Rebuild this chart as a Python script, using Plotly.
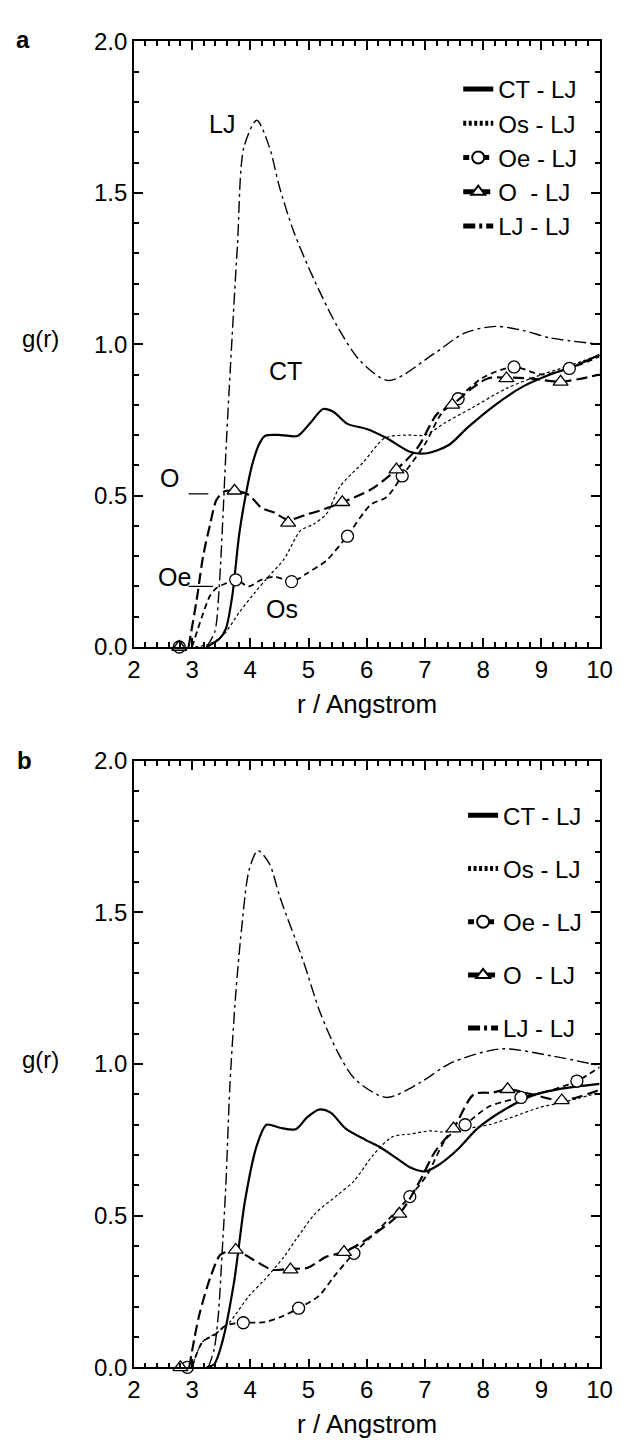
import plotly.graph_objects as go

# ---------------- Panel a data ----------------
a_ct_r = [3.25, 3.47, 3.58, 3.69, 3.81, 3.92, 4.03, 4.14, 4.25, 4.53, 4.81, 5.03, 5.25, 5.42, 5.67, 6.0, 6.34, 6.74, 7.04, 7.41, 7.74, 8.21, 8.68, 9.15, 9.6, 10.0]
a_ct_g = [0.0, 0.027, 0.06, 0.168, 0.373, 0.50, 0.60, 0.665, 0.697, 0.70, 0.697, 0.74, 0.786, 0.778, 0.737, 0.72, 0.69, 0.645, 0.64, 0.667, 0.726, 0.80, 0.86, 0.90, 0.93, 0.965]

a_os_r = [3.05, 3.3, 3.53, 3.81, 4.08, 4.31, 4.58, 4.86, 5.08, 5.31, 5.54, 5.94, 6.31, 6.68, 7.0, 7.34, 7.81, 8.41, 9.01, 9.5, 10.0]
a_os_g = [0.0, 0.01, 0.038, 0.114, 0.18, 0.232, 0.29, 0.384, 0.405, 0.44, 0.53, 0.61, 0.69, 0.70, 0.70, 0.74, 0.79, 0.855, 0.90, 0.93, 0.965]

a_oe_r = [3.0, 3.17, 3.31, 3.42, 3.58, 3.76, 3.97, 4.19, 4.42, 4.72, 4.97, 5.31, 5.66, 6.07, 6.34, 6.61, 7.0, 7.28, 7.56, 8.0, 8.53, 9.0, 9.48, 10.0]
a_oe_g = [0.0, 0.10, 0.17, 0.195, 0.21, 0.222, 0.20, 0.222, 0.232, 0.216, 0.243, 0.286, 0.366, 0.47, 0.495, 0.565, 0.67, 0.77, 0.82, 0.89, 0.925, 0.90, 0.92, 0.96]
a_oe_mr = [2.78, 3.75, 4.71, 5.67, 6.61, 7.57, 8.53, 9.48]
a_oe_mg = [0.0, 0.222, 0.216, 0.366, 0.565, 0.82, 0.925, 0.92]

a_o_r = [2.94, 3.08, 3.19, 3.31, 3.42, 3.56, 3.73, 3.97, 4.19, 4.42, 4.65, 4.97, 5.19, 5.58, 6.07, 6.51, 6.88, 7.21, 7.47, 7.81, 8.08, 8.4, 8.81, 9.33, 10.0]
a_o_g = [0.0, 0.157, 0.30, 0.405, 0.486, 0.514, 0.516, 0.503, 0.46, 0.443, 0.42, 0.438, 0.45, 0.478, 0.52, 0.586, 0.66, 0.77, 0.80, 0.855, 0.887, 0.89, 0.887, 0.876, 0.90]
a_o_mr = [2.78, 3.73, 4.65, 5.58, 6.51, 7.47, 8.4, 9.33]
a_o_mg = [0.0, 0.516, 0.41, 0.478, 0.586, 0.80, 0.887, 0.876]

a_lj_r = [3.25, 3.39, 3.47, 3.53, 3.58, 3.64, 3.78, 3.89, 4.11, 4.33, 4.5, 4.75, 5.08, 5.48, 5.88, 6.38, 7.15, 7.68, 8.21, 8.7, 9.15, 10.0]
a_lj_g = [0.0, 0.05, 0.21, 0.43, 0.64, 0.86, 1.33, 1.65, 1.74, 1.65, 1.52, 1.37, 1.22, 1.064, 0.947, 0.88, 0.968, 1.037, 1.059, 1.045, 1.021, 1.0]

# ---------------- Panel b data ----------------
b_ct_r = [3.25, 3.38, 3.52, 3.72, 3.91, 4.11, 4.28, 4.51, 4.78, 4.98, 5.18, 5.38, 5.64, 5.98, 6.21, 6.51, 6.77, 7.0, 7.24, 7.57, 7.9, 8.37, 8.9, 9.37, 10.0]
b_ct_g = [0.0, 0.01, 0.084, 0.28, 0.55, 0.73, 0.80, 0.79, 0.785, 0.825, 0.85, 0.84, 0.787, 0.75, 0.728, 0.69, 0.657, 0.646, 0.668, 0.72, 0.787, 0.85, 0.90, 0.92, 0.935]

b_os_r = [3.0, 3.18, 3.45, 3.65, 3.98, 4.25, 4.58, 4.78, 5.11, 5.51, 5.78, 6.11, 6.44, 6.77, 7.11, 7.31, 7.70, 8.1, 8.5, 8.97, 9.37, 10.0]
b_os_g = [0.0, 0.084, 0.117, 0.15, 0.236, 0.29, 0.365, 0.42, 0.506, 0.57, 0.614, 0.70, 0.76, 0.77, 0.78, 0.776, 0.787, 0.80, 0.825, 0.857, 0.874, 0.906]

b_oe_r = [3.0, 3.18, 3.38, 3.58, 3.88, 4.25, 4.51, 4.83, 5.18, 5.44, 5.78, 6.18, 6.74, 7.04, 7.37, 7.69, 8.1, 8.65, 9.03, 9.61, 10.0]
b_oe_g = [0.0, 0.084, 0.106, 0.138, 0.147, 0.149, 0.165, 0.195, 0.236, 0.30, 0.376, 0.45, 0.563, 0.636, 0.755, 0.80, 0.86, 0.89, 0.906, 0.944, 0.99]
b_oe_mr = [2.92, 3.88, 4.83, 5.78, 6.74, 7.69, 8.65, 9.61]
b_oe_mg = [0.0, 0.147, 0.195, 0.376, 0.563, 0.80, 0.89, 0.944]

b_o_r = [2.95, 3.12, 3.32, 3.48, 3.58, 3.75, 4.05, 4.38, 4.69, 4.98, 5.31, 5.61, 5.98, 6.56, 6.91, 7.17, 7.49, 7.84, 8.17, 8.42, 8.84, 9.35, 10.0]
b_o_g = [0.0, 0.17, 0.30, 0.37, 0.38, 0.387, 0.355, 0.322, 0.325, 0.328, 0.365, 0.38, 0.42, 0.506, 0.614, 0.71, 0.787, 0.90, 0.906, 0.917, 0.90, 0.88, 0.915]
b_o_mr = [2.8, 3.75, 4.69, 5.61, 6.56, 7.49, 8.42, 9.35]
b_o_mg = [0.0, 0.387, 0.322, 0.38, 0.506, 0.787, 0.917, 0.88]

b_lj_r = [3.28, 3.38, 3.45, 3.52, 3.58, 3.65, 3.75, 3.85, 3.98, 4.13, 4.33, 4.51, 4.91, 5.2, 5.5, 5.8, 6.34, 6.91, 7.44, 8.3, 9.17, 10.0]
b_lj_g = [0.0, 0.06, 0.17, 0.39, 0.60, 0.93, 1.23, 1.445, 1.64, 1.704, 1.66, 1.55, 1.34, 1.17, 1.04, 0.95, 0.89, 0.938, 1.003, 1.05, 1.027, 0.995]

series_names = ["CT", "Os", "Oe", "O", "LJ"]
legend_labels = ["CT - LJ", "Os - LJ", "Oe - LJ", "O\u00a0\u00a0- LJ", "LJ - LJ"]
x_range = [2, 10]
y_range = [0, 2]

FONT = "Liberation Sans, Arial, Helvetica, sans-serif"
W, H = 631, 1450
PL, PR = 131, 612
A_TOP, A_BOT = 28, 645
B_TOP, B_BOT = 761, 1379

styles = {
    "CT": dict(dash="solid", width=2.2),
    "Os": dict(dash="3px,2.5px", width=1.2),
    "Oe": dict(dash="6px,4px", width=1.8),
    "O": dict(dash="11px,5px", width=2.2),
    "LJ": dict(dash="12px,4px,3px,4px", width=1.4),
}
symbols = {"Oe": "circle", "O": "triangle-up"}

fig = go.Figure()


def gapped(vals):
    out = []
    for v in vals:
        out += [v, None]
    return out


def add_panel(xa, ya, leg, curves, markers):
    for rank, (name, label) in enumerate(zip(series_names, legend_labels)):
        r, g = curves[name]
        has_m = name in markers
        fig.add_trace(go.Scatter(
            x=r, y=g, mode="lines", xaxis=xa, yaxis=ya,
            line=dict(color="black", shape="spline", smoothing=0.8, **styles[name]),
            name=label, legend=leg, legendgroup=leg + name, legendrank=rank + 1,
            showlegend=not has_m, hoverinfo="skip"))
        if has_m:
            mr, mg = markers[name]
            fig.add_trace(go.Scatter(
                x=gapped(mr), y=gapped(mg), mode="lines+markers", connectgaps=False,
                xaxis=xa, yaxis=ya, cliponaxis=False,
                line=dict(color="black", **styles[name]),
                marker=dict(symbol=symbols[name], size=12 if name == "Oe" else 13,
                            color="white", line=dict(color="black", width=1.3)),
                name=label, legend=leg, legendgroup=leg + name, legendrank=rank + 1,
                showlegend=True, hoverinfo="skip"))


add_panel("x", "y", "legend",
          {"CT": (a_ct_r, a_ct_g), "Os": (a_os_r, a_os_g), "Oe": (a_oe_r, a_oe_g),
           "O": (a_o_r, a_o_g), "LJ": (a_lj_r, a_lj_g)},
          {"Oe": (a_oe_mr, a_oe_mg), "O": (a_o_mr, a_o_mg)})
add_panel("x2", "y2", "legend2",
          {"CT": (b_ct_r, b_ct_g), "Os": (b_os_r, b_os_g), "Oe": (b_oe_r, b_oe_g),
           "O": (b_o_r, b_o_g), "LJ": (b_lj_r, b_lj_g)},
          {"Oe": (b_oe_mr, b_oe_mg), "O": (b_o_mr, b_o_mg)})

tickfont = dict(family=FONT, size=24, color="black")


def xaxis(anchor):
    return dict(domain=[PL / W, PR / W], anchor=anchor, range=x_range,
                tick0=2, dtick=1,
                ticks="inside", ticklen=9, tickwidth=1.5, tickcolor="black",
                mirror="allticks", showline=True, linewidth=1.5, linecolor="black",
                showgrid=False, zeroline=False, tickfont=tickfont,
                minor=dict(dtick=0.2, ticks="inside", ticklen=5, tickcolor="black", showgrid=False))


def yaxis(anchor, top, bot):
    return dict(domain=[1 - bot / H, 1 - top / H], anchor=anchor, range=y_range,
                tick0=0, dtick=0.5, tickformat=".1f",
                ticks="inside", ticklen=9, tickwidth=1.5, tickcolor="black",
                mirror="allticks", showline=True, linewidth=1.5, linecolor="black",
                showgrid=False, zeroline=False, tickfont=tickfont,
                minor=dict(dtick=0.1, ticks="inside", ticklen=5, tickcolor="black", showgrid=False))


legfont = dict(family=FONT, size=24, color="black")
fig.update_layout(
    width=W, height=H, margin=dict(l=0, r=0, t=0, b=0),
    paper_bgcolor="white", plot_bgcolor="white",
    xaxis=xaxis("y"), yaxis=yaxis("x", A_TOP, A_BOT),
    xaxis2=xaxis("y2"), yaxis2=yaxis("x2", B_TOP, B_BOT),
    legend=dict(x=466 / W, y=1 - 54 / H, xanchor="left", yanchor="top",
                font=legfont, bgcolor="rgba(0,0,0,0)", borderwidth=0,
                tracegroupgap=0, traceorder="grouped", itemsizing="constant"),
    legend2=dict(x=471 / W, y=1 - 794 / H, xanchor="left", yanchor="top",
                 font=legfont, bgcolor="rgba(0,0,0,0)", borderwidth=0,
                 tracegroupgap=19, traceorder="grouped", itemsizing="constant"),
    showlegend=True,
)

paper_texts = [
    ("<b>a</b>", 17, 26, 24), ("<b>b</b>", 18, 761, 24),
    ("g(r)", 35, 331, 24), ("g(r)", 35, 1065, 24),
    ("r / Angstrom", (PL + PR) / 2, 703, 26), ("r / Angstrom", (PL + PR) / 2, 1437, 26),
]
for t, px, py, fs in paper_texts:
    fig.add_annotation(text=t, x=px / W, y=1 - py / H, xref="paper", yref="paper",
                       showarrow=False, xanchor="center", yanchor="middle",
                       font=dict(family=FONT, size=fs, color="black"))

curve_labels = [("LJ", 3.52, 1.727), ("CT", 4.6, 0.91), ("O", 2.62, 0.557),
                ("Oe", 2.69, 0.23), ("Os", 4.54, 0.124)]
for t, xv, yv in curve_labels:
    fig.add_annotation(text=t, x=xv, y=yv, xref="x", yref="y", showarrow=False,
                       xanchor="center", yanchor="middle", font=dict(family=FONT, size=25, color="black"))

leaders = [(2.94, 3.28, 0.506), (2.94, 3.36, 0.2)]
for x0, x1, yv in leaders:
    fig.add_shape(type="line", xref="x", yref="y", x0=x0, x1=x1, y0=yv, y1=yv,
                  line=dict(color="black", width=1.3))

fig.write_html("out.html")
